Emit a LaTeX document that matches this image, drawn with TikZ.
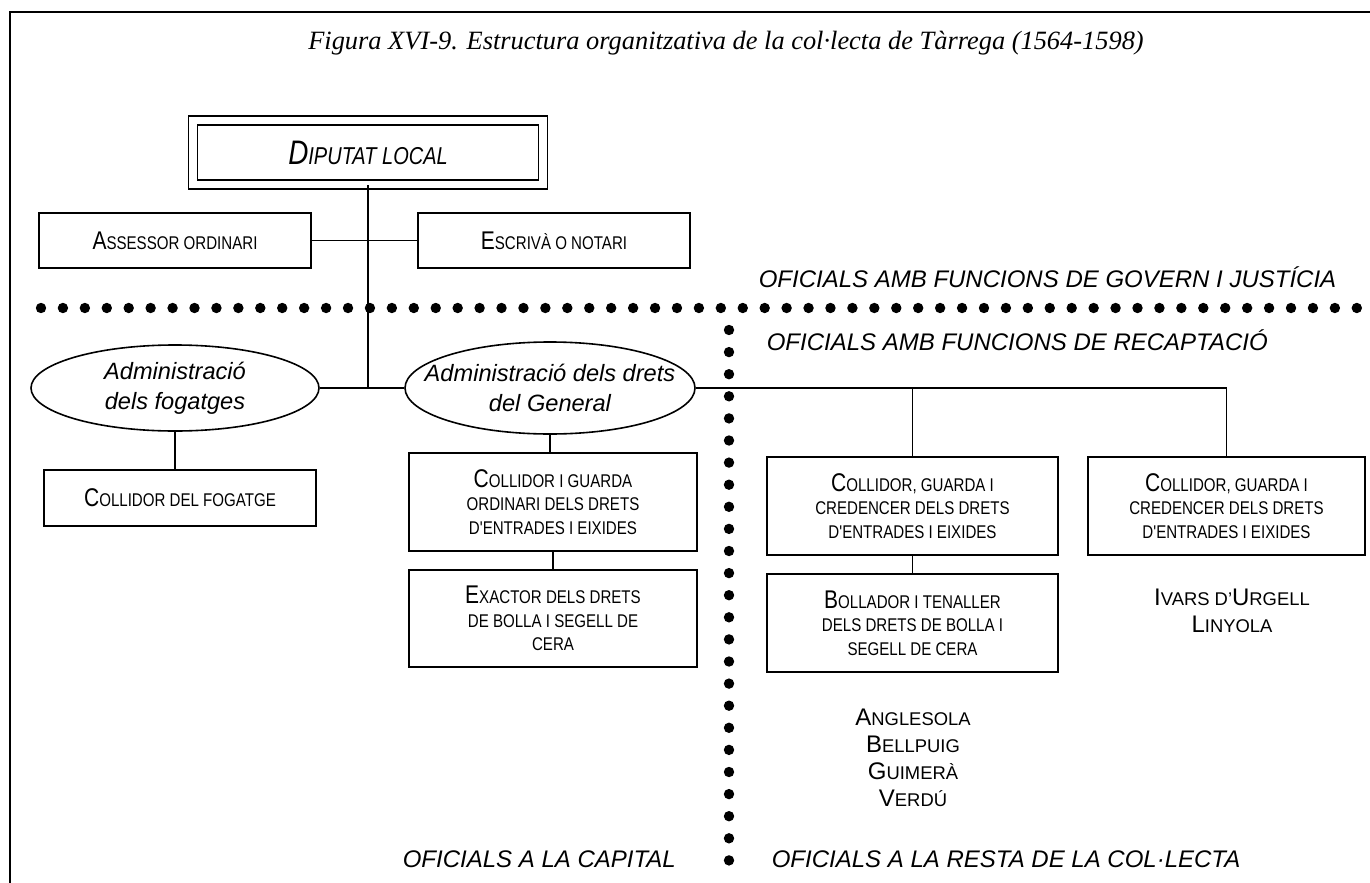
\documentclass[tikz,border=0pt]{standalone}
\usepackage{fontspec}
\setmainfont{Liberation Serif}
\setsansfont{Liberation Sans}
\newfontfamily\condfont{Liberation Sans}[FakeStretch=0.82]
\usepackage{tikz}
\usetikzlibrary{shapes.geometric}
\newcommand{\sk}[2]{{\fontsize{12.8}{11.7}\selectfont #1}{\fontsize{9.2}{11.7}\selectfont #2}}
\newcommand{\pl}[2]{{\fontsize{12}{13.5}\selectfont #1}{\fontsize{9.2}{13.5}\selectfont #2}}
\def\caixanode{\node[draw,rectangle,align=center,inner sep=0pt,font=\condfont\fontsize{9.2}{11.7}\selectfont]}

\begin{document}
\begin{tikzpicture}[x=0.5pt,y=-0.5pt,line width=0.8pt,
  oval/.style={draw,ellipse,align=center,inner sep=0pt,font=\sffamily\itshape\fontsize{11.8}{15}\selectfont},
  rotul/.style={font=\sffamily\itshape\fontsize{12}{14}\selectfont,inner sep=0pt},
  lloc/.style={align=center,inner sep=0pt,font=\sffamily\fontsize{9.2}{13.5}\selectfont}]
\useasboundingbox (0,0) rectangle (1370,883);
\draw (1370,12) -- (10,12) -- (10,883);
\node[font=\itshape\fontsize{13.2}{15}\selectfont,anchor=base] (titol) at (726,50) {Figura XVI-9. Estructura organitzativa de la col·lecta de Tàrrega (1564-1598)};

% govern i justicia
\node[draw,double,double distance=3.8pt,minimum width=175pt,minimum height=32pt,inner sep=0pt,font=\condfont\itshape] (dip) at (368,152.5) {{\fontsize{17}{18}\selectfont D}{\fontsize{12.2}{18}\selectfont IPUTAT LOCAL}};
\caixanode[minimum width=136pt,minimum height=27.5pt] (asr) at (175,240.5) {\sk{A}{SSESSOR ORDINARI}};
\caixanode[minimum width=136pt,minimum height=27.5pt] (esc) at (554,240.5) {\sk{E}{SCRIVÀ O NOTARI}};
\node[rotul,anchor=base east] (govern) at (1337,287) {OFICIALS AMB FUNCIONS DE GOVERN I JUSTÍCIA};
\foreach \i in {0,...,60} \fill (41+\i*21.93,308) circle (2.6pt);
\foreach \j in {0,...,24} \fill (729,330+\j*22.1) circle (2.6pt);

% recaptacio
\node[rotul,anchor=base west] (recapt) at (766,350) {OFICIALS AMB FUNCIONS DE RECAPTACIÓ};
\node[oval,minimum width=144pt,minimum height=43pt] (fog) at (175,388) {Administració\\dels fogatges};
\node[oval,inner xsep=-15pt,minimum width=145pt,minimum height=46pt] (gen) at (550,388) {Administració dels drets\\del General};
\caixanode[minimum width=136pt,minimum height=28pt] (cfog) at (180,498) {\sk{C}{OLLIDOR DEL FOGATGE}};
\caixanode[minimum width=144pt,minimum height=49pt] (cig) at (553,502) {\sk{C}{OLLIDOR I GUARDA}\\ORDINARI DELS DRETS\\D'ENTRADES I EIXIDES};
\caixanode[minimum width=144pt,minimum height=48.5pt] (exa) at (553,618.5) {\sk{E}{XACTOR DELS DRETS}\\DE BOLLA I SEGELL DE\\CERA};
\caixanode[minimum width=145.5pt,minimum height=49pt] (cgr) at (912.5,506) {\sk{C}{OLLIDOR, GUARDA I}\\CREDENCER DELS DRETS\\D'ENTRADES I EIXIDES};
\caixanode[minimum width=138.5pt,minimum height=49pt] (cgu) at (1226.5,506) {\sk{C}{OLLIDOR, GUARDA I}\\CREDENCER DELS DRETS\\D'ENTRADES I EIXIDES};
\caixanode[minimum width=145.5pt,minimum height=49pt] (bol) at (912.5,623) {\sk{B}{OLLADOR I TENALLER}\\DELS DRETS DE BOLLA I\\SEGELL DE CERA};
\node[lloc] (iva) at (1232,611) {\pl{I}{VARS D'}\pl{U}{RGELL}\\\pl{L}{INYOLA}};
\node[lloc] (ang) at (913,758) {\pl{A}{NGLESOLA}\\\pl{B}{ELLPUIG}\\\pl{G}{UIMERÀ}\\\pl{V}{ERDÚ}};
\node[rotul,anchor=base west] (capital) at (402,867) {OFICIALS A LA CAPITAL};
\node[rotul,anchor=base west] (resta) at (771,867) {OFICIALS A LA RESTA DE LA COL·LECTA};

% linies
\draw (dip.south) -- (dip.south |- fog.east);
\draw (asr.east) -- (esc.west);
\draw (fog.east) -- (gen.west);
\draw (fog.south) -- (fog.south |- cfog.north);
\draw (gen.south) -- (gen.south |- cig.north);
\draw (cig.south) -- (exa.north);
\draw (gen.east) -- (gen.east -| cgu.north) -- (cgu.north);
\draw (cgr.north) -- (cgr.north |- gen.east);
\draw (cgr.south) -- (bol.north);
\end{tikzpicture}
\end{document}
